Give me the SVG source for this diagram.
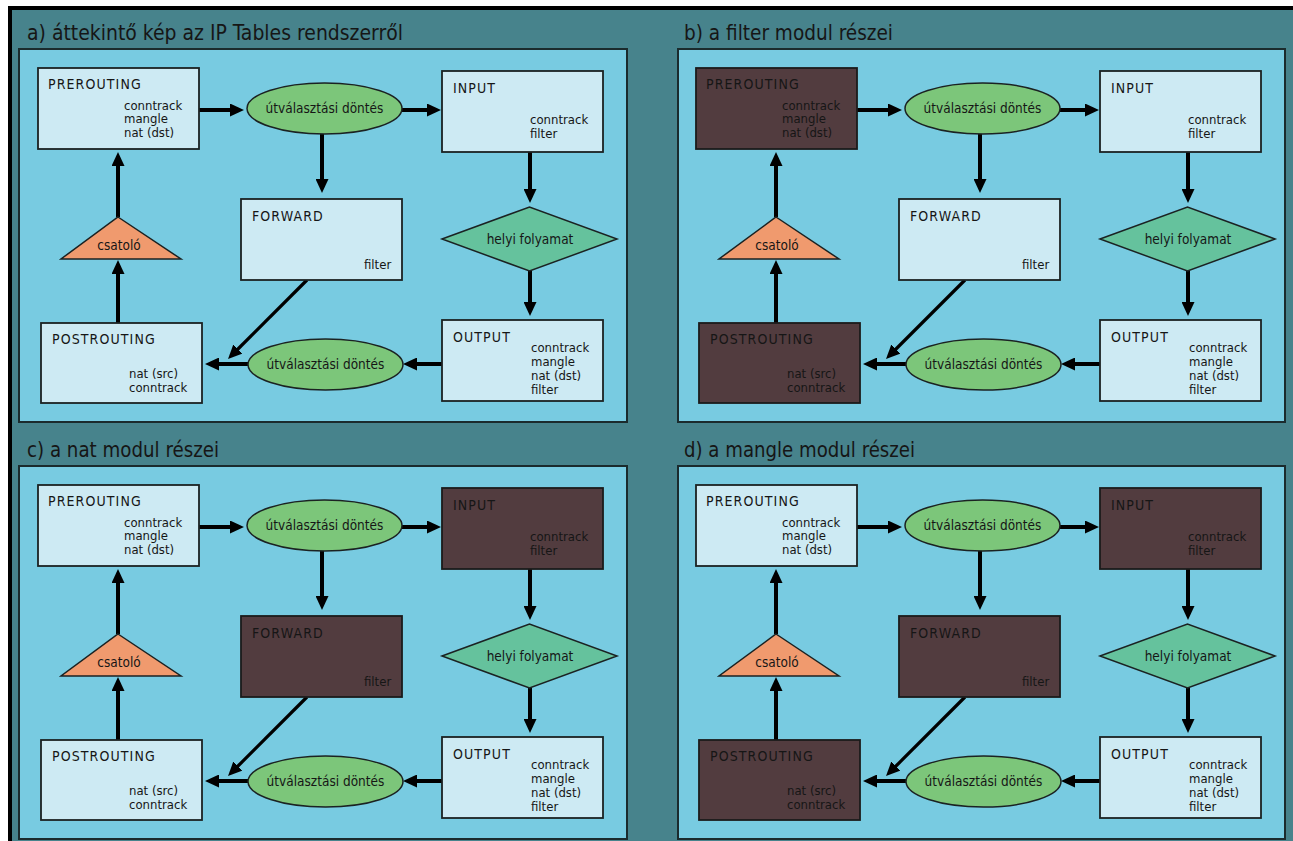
<svg xmlns="http://www.w3.org/2000/svg" width="1293" height="841" viewBox="0 0 1293 841">
<defs>
<style>
text{font-family:"DejaVu Sans Condensed","Liberation Sans",Arial,sans-serif;font-stretch:condensed;fill:#161616}
.ttl{font-size:21px}
.hd{font-size:14px;letter-spacing:1.1px}
.sm{font-size:13px}
.lbl{font-size:13.5px;text-anchor:middle}
.panel{fill:#78cbe1;stroke:#1b2b2d;stroke-width:2}
.box{fill:#cdeaf3;stroke:#1b2222;stroke-width:1.8}
.dark{fill:#523c3f;stroke:#1b1b1b;stroke-width:1.8}
.ell{fill:#7cc67a;stroke:#1b2222;stroke-width:1.5}
.dia{fill:#65c29d;stroke:#1b2222;stroke-width:1.5}
.tri{fill:#f09a6e;stroke:#1b2222;stroke-width:1.5}
.arr{stroke:#000;stroke-width:4;fill:none;marker-end:url(#ah)}
.arrd{stroke:#000;stroke-width:3.2;fill:none;marker-end:url(#ah)}
</style>
<marker id="ah" markerUnits="userSpaceOnUse" markerWidth="15" markerHeight="13" refX="2" refY="6.5" orient="auto">
<path d="M0,0 L14,6.5 L0,13 z" fill="#000"/>
</marker>
</defs>
<rect x="0" y="0" width="1293" height="841" fill="#ffffff"/>
<rect x="10" y="8" width="1283" height="833" fill="#47838c"/>
<rect x="8" y="6" width="1285" height="4" fill="#000"/>
<rect x="8" y="6" width="4" height="835" fill="#000"/>

<!-- Panel a -->
<g id="panel-a">
<text class="ttl" x="27" y="40" textLength="376" lengthAdjust="spacingAndGlyphs">a) áttekintő kép az IP Tables rendszerről</text>
<rect class="panel" x="19" y="49" width="608" height="373"/>
<g id="a-connectors">
<line class="arr" x1="199" y1="110" x2="232" y2="110"/>
<line class="arr" x1="402" y1="110" x2="429" y2="110"/>
<line class="arr" x1="322" y1="134" x2="322" y2="181"/>
<line class="arr" x1="530" y1="152" x2="530" y2="191"/>
<line class="arr" x1="530" y1="271" x2="530" y2="304"/>
<line class="arr" x1="442" y1="364" x2="415" y2="364"/>
<line class="arr" x1="248" y1="364" x2="217" y2="364"/>
<line class="arrd" x1="307" y1="280" x2="236.5" y2="350.5"/>
<line class="arr" x1="118" y1="323" x2="118" y2="272"/>
<line class="arr" x1="118" y1="217" x2="118" y2="164"/>
</g>
<g id="a-prerouting"><rect class="box" x="38" y="68" width="161" height="81"/><text class="hd" x="48" y="89">PREROUTING</text><text class="sm" x="124" y="109.5">conntrack</text><text class="sm" x="124" y="123">mangle</text><text class="sm" x="124" y="136.5">nat (dst)</text></g>
<g id="a-routing1"><ellipse class="ell" cx="324.5" cy="108.5" rx="77.5" ry="25.5"/><text class="lbl" x="324.5" y="113">útválasztási döntés</text></g>
<g id="a-input"><rect class="box" x="442" y="71" width="161" height="81"/><text class="hd" x="453" y="93">INPUT</text><text class="sm" x="530" y="124">conntrack</text><text class="sm" x="530" y="138">filter</text></g>
<g id="a-forward"><rect class="box" x="241" y="199" width="161" height="81"/><text class="hd" x="252" y="221">FORWARD</text><text class="sm" x="364" y="269">filter</text></g>
<g id="a-local"><polygon class="dia" points="442,239 529.5,207 617,239 529.5,271"/><text class="lbl" x="530" y="244">helyi folyamat</text></g>
<g id="a-output"><rect class="box" x="442" y="320" width="161" height="81"/><text class="hd" x="453" y="342">OUTPUT</text><text class="sm" x="531" y="352">conntrack</text><text class="sm" x="531" y="366">mangle</text><text class="sm" x="531" y="380">nat (dst)</text><text class="sm" x="531" y="394">filter</text></g>
<g id="a-routing2"><ellipse class="ell" cx="325.5" cy="364.5" rx="77.5" ry="25.5"/><text class="lbl" x="325.5" y="369">útválasztási döntés</text></g>
<g id="a-postrouting"><rect class="box" x="41" y="323" width="161" height="80"/><text class="hd" x="52" y="344">POSTROUTING</text><text class="sm" x="129" y="378">nat (src)</text><text class="sm" x="129" y="391.5">conntrack</text></g>
<g id="a-interface"><polygon class="tri" points="118,217 181,259 61,259"/><text class="lbl" x="119" y="250">csatoló</text></g>
</g>

<!-- Panel b -->
<g id="panel-b" transform="translate(658,0)">
<text class="ttl" x="26" y="40" textLength="209" lengthAdjust="spacingAndGlyphs">b) a filter modul részei</text>
<rect class="panel" x="20" y="49" width="607" height="373"/>
<g id="b-connectors">
<line class="arr" x1="199" y1="110" x2="232" y2="110"/>
<line class="arr" x1="402" y1="110" x2="429" y2="110"/>
<line class="arr" x1="322" y1="134" x2="322" y2="181"/>
<line class="arr" x1="530" y1="152" x2="530" y2="191"/>
<line class="arr" x1="530" y1="271" x2="530" y2="304"/>
<line class="arr" x1="442" y1="364" x2="415" y2="364"/>
<line class="arr" x1="248" y1="364" x2="217" y2="364"/>
<line class="arrd" x1="307" y1="280" x2="236.5" y2="350.5"/>
<line class="arr" x1="118" y1="323" x2="118" y2="272"/>
<line class="arr" x1="118" y1="217" x2="118" y2="164"/>
</g>
<g id="b-prerouting"><rect class="dark" x="38" y="68" width="161" height="81"/><text class="hd" x="48" y="89">PREROUTING</text><text class="sm" x="124" y="109.5">conntrack</text><text class="sm" x="124" y="123">mangle</text><text class="sm" x="124" y="136.5">nat (dst)</text></g>
<g id="b-routing1"><ellipse class="ell" cx="324.5" cy="108.5" rx="77.5" ry="25.5"/><text class="lbl" x="324.5" y="113">útválasztási döntés</text></g>
<g id="b-input"><rect class="box" x="442" y="71" width="161" height="81"/><text class="hd" x="453" y="93">INPUT</text><text class="sm" x="530" y="124">conntrack</text><text class="sm" x="530" y="138">filter</text></g>
<g id="b-forward"><rect class="box" x="241" y="199" width="161" height="81"/><text class="hd" x="252" y="221">FORWARD</text><text class="sm" x="364" y="269">filter</text></g>
<g id="b-local"><polygon class="dia" points="442,239 529.5,207 617,239 529.5,271"/><text class="lbl" x="530" y="244">helyi folyamat</text></g>
<g id="b-output"><rect class="box" x="442" y="320" width="161" height="81"/><text class="hd" x="453" y="342">OUTPUT</text><text class="sm" x="531" y="352">conntrack</text><text class="sm" x="531" y="366">mangle</text><text class="sm" x="531" y="380">nat (dst)</text><text class="sm" x="531" y="394">filter</text></g>
<g id="b-routing2"><ellipse class="ell" cx="325.5" cy="364.5" rx="77.5" ry="25.5"/><text class="lbl" x="325.5" y="369">útválasztási döntés</text></g>
<g id="b-postrouting"><rect class="dark" x="41" y="323" width="161" height="80"/><text class="hd" x="52" y="344">POSTROUTING</text><text class="sm" x="129" y="378">nat (src)</text><text class="sm" x="129" y="391.5">conntrack</text></g>
<g id="b-interface"><polygon class="tri" points="118,217 181,259 61,259"/><text class="lbl" x="119" y="250">csatoló</text></g>
</g>

<!-- Panel c -->
<g id="panel-c" transform="translate(0,417)">
<text class="ttl" x="27" y="40" textLength="192" lengthAdjust="spacingAndGlyphs">c) a nat modul részei</text>
<rect class="panel" x="19" y="49" width="608" height="373"/>
<g id="c-connectors">
<line class="arr" x1="199" y1="110" x2="232" y2="110"/>
<line class="arr" x1="402" y1="110" x2="429" y2="110"/>
<line class="arr" x1="322" y1="134" x2="322" y2="181"/>
<line class="arr" x1="530" y1="152" x2="530" y2="191"/>
<line class="arr" x1="530" y1="271" x2="530" y2="304"/>
<line class="arr" x1="442" y1="364" x2="415" y2="364"/>
<line class="arr" x1="248" y1="364" x2="217" y2="364"/>
<line class="arrd" x1="307" y1="280" x2="236.5" y2="350.5"/>
<line class="arr" x1="118" y1="323" x2="118" y2="272"/>
<line class="arr" x1="118" y1="217" x2="118" y2="164"/>
</g>
<g id="c-prerouting"><rect class="box" x="38" y="68" width="161" height="81"/><text class="hd" x="48" y="89">PREROUTING</text><text class="sm" x="124" y="109.5">conntrack</text><text class="sm" x="124" y="123">mangle</text><text class="sm" x="124" y="136.5">nat (dst)</text></g>
<g id="c-routing1"><ellipse class="ell" cx="324.5" cy="108.5" rx="77.5" ry="25.5"/><text class="lbl" x="324.5" y="113">útválasztási döntés</text></g>
<g id="c-input"><rect class="dark" x="442" y="71" width="161" height="81"/><text class="hd" x="453" y="93">INPUT</text><text class="sm" x="530" y="124">conntrack</text><text class="sm" x="530" y="138">filter</text></g>
<g id="c-forward"><rect class="dark" x="241" y="199" width="161" height="81"/><text class="hd" x="252" y="221">FORWARD</text><text class="sm" x="364" y="269">filter</text></g>
<g id="c-local"><polygon class="dia" points="442,239 529.5,207 617,239 529.5,271"/><text class="lbl" x="530" y="244">helyi folyamat</text></g>
<g id="c-output"><rect class="box" x="442" y="320" width="161" height="81"/><text class="hd" x="453" y="342">OUTPUT</text><text class="sm" x="531" y="352">conntrack</text><text class="sm" x="531" y="366">mangle</text><text class="sm" x="531" y="380">nat (dst)</text><text class="sm" x="531" y="394">filter</text></g>
<g id="c-routing2"><ellipse class="ell" cx="325.5" cy="364.5" rx="77.5" ry="25.5"/><text class="lbl" x="325.5" y="369">útválasztási döntés</text></g>
<g id="c-postrouting"><rect class="box" x="41" y="323" width="161" height="80"/><text class="hd" x="52" y="344">POSTROUTING</text><text class="sm" x="129" y="378">nat (src)</text><text class="sm" x="129" y="391.5">conntrack</text></g>
<g id="c-interface"><polygon class="tri" points="118,217 181,259 61,259"/><text class="lbl" x="119" y="250">csatoló</text></g>
</g>

<!-- Panel d -->
<g id="panel-d" transform="translate(658,417)">
<text class="ttl" x="26" y="40" textLength="231" lengthAdjust="spacingAndGlyphs">d) a mangle modul részei</text>
<rect class="panel" x="20" y="49" width="607" height="373"/>
<g id="d-connectors">
<line class="arr" x1="199" y1="110" x2="232" y2="110"/>
<line class="arr" x1="402" y1="110" x2="429" y2="110"/>
<line class="arr" x1="322" y1="134" x2="322" y2="181"/>
<line class="arr" x1="530" y1="152" x2="530" y2="191"/>
<line class="arr" x1="530" y1="271" x2="530" y2="304"/>
<line class="arr" x1="442" y1="364" x2="415" y2="364"/>
<line class="arr" x1="248" y1="364" x2="217" y2="364"/>
<line class="arrd" x1="307" y1="280" x2="236.5" y2="350.5"/>
<line class="arr" x1="118" y1="323" x2="118" y2="272"/>
<line class="arr" x1="118" y1="217" x2="118" y2="164"/>
</g>
<g id="d-prerouting"><rect class="box" x="38" y="68" width="161" height="81"/><text class="hd" x="48" y="89">PREROUTING</text><text class="sm" x="124" y="109.5">conntrack</text><text class="sm" x="124" y="123">mangle</text><text class="sm" x="124" y="136.5">nat (dst)</text></g>
<g id="d-routing1"><ellipse class="ell" cx="324.5" cy="108.5" rx="77.5" ry="25.5"/><text class="lbl" x="324.5" y="113">útválasztási döntés</text></g>
<g id="d-input"><rect class="dark" x="442" y="71" width="161" height="81"/><text class="hd" x="453" y="93">INPUT</text><text class="sm" x="530" y="124">conntrack</text><text class="sm" x="530" y="138">filter</text></g>
<g id="d-forward"><rect class="dark" x="241" y="199" width="161" height="81"/><text class="hd" x="252" y="221">FORWARD</text><text class="sm" x="364" y="269">filter</text></g>
<g id="d-local"><polygon class="dia" points="442,239 529.5,207 617,239 529.5,271"/><text class="lbl" x="530" y="244">helyi folyamat</text></g>
<g id="d-output"><rect class="box" x="442" y="320" width="161" height="81"/><text class="hd" x="453" y="342">OUTPUT</text><text class="sm" x="531" y="352">conntrack</text><text class="sm" x="531" y="366">mangle</text><text class="sm" x="531" y="380">nat (dst)</text><text class="sm" x="531" y="394">filter</text></g>
<g id="d-routing2"><ellipse class="ell" cx="325.5" cy="364.5" rx="77.5" ry="25.5"/><text class="lbl" x="325.5" y="369">útválasztási döntés</text></g>
<g id="d-postrouting"><rect class="dark" x="41" y="323" width="161" height="80"/><text class="hd" x="52" y="344">POSTROUTING</text><text class="sm" x="129" y="378">nat (src)</text><text class="sm" x="129" y="391.5">conntrack</text></g>
<g id="d-interface"><polygon class="tri" points="118,217 181,259 61,259"/><text class="lbl" x="119" y="250">csatoló</text></g>
</g>
</svg>
